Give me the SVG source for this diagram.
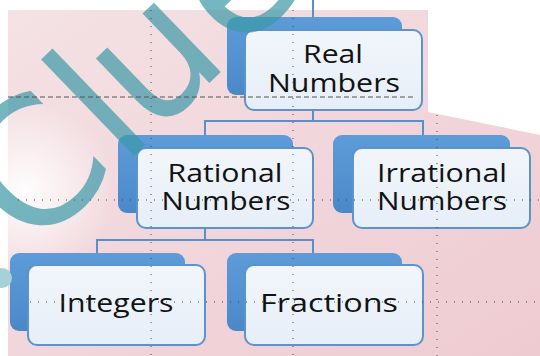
<svg xmlns="http://www.w3.org/2000/svg" width="540" height="356" viewBox="0 0 540 356">
  <defs>
    <linearGradient id="bg" x1="0" y1="0" x2="1" y2="1">
      <stop offset="0" stop-color="#f4e2e5"/>
      <stop offset="0.5" stop-color="#f1d6db"/>
      <stop offset="1" stop-color="#eecbd1"/>
    </linearGradient>
    <radialGradient id="glow" cx="25" cy="190" r="90" gradientUnits="userSpaceOnUse">
      <stop offset="0" stop-color="#ffffff" stop-opacity="0.95"/>
      <stop offset="1" stop-color="#ffffff" stop-opacity="0"/>
    </radialGradient>
    <linearGradient id="back" x1="0" y1="0" x2="0" y2="1">
      <stop offset="0" stop-color="#5d9cd8"/>
      <stop offset="1" stop-color="#4b88c8"/>
    </linearGradient>
    <linearGradient id="front" x1="0" y1="0" x2="0" y2="1">
      <stop offset="0" stop-color="#f2f6fb"/>
      <stop offset="1" stop-color="#e6eef8"/>
    </linearGradient>
    <style>
      .back { fill: url(#back); }
      .front { fill: url(#front); stroke: #5b93cf; stroke-width: 2; }
      .lbl { font-family: "Open Sans", "Liberation Sans", sans-serif; font-size: 25px; fill: #121212; text-anchor: middle; }
      .conn { fill: none; stroke: #5a8fcb; stroke-width: 2; }
      .dot { stroke: #444; stroke-width: 1; stroke-dasharray: 1 7; fill: none; }
      .dash { stroke: #555; stroke-width: 1; stroke-dasharray: 5 3; fill: none; }
      .wm { font-family: "DejaVu Sans", sans-serif; font-size: 176px; fill: #3a98a6; fill-opacity: 0.7; text-anchor: middle; }
    </style>
  </defs>

  <!-- background -->
  <rect width="540" height="356" fill="#ffffff"/>
  <path d="M8,10 H428 V112 L540,135 V356 H8 Z" fill="url(#bg)"/>
  <path d="M8,10 H428 V112 L540,135 V356 H8 Z" fill="url(#glow)"/>

  <!-- connectors -->
  <g id="connectors">
    <path class="conn" d="M313,0 V17"/>
    <path class="conn" d="M313,110 V121 M205,135 V121 H423 V135"/>
    <path class="conn" d="M205,228 V240 M97,253 V240 H313 V253"/>
  </g>

  <!-- nodes -->
  <g id="real">
    <rect class="back" x="227" y="17" width="175" height="78" rx="9"/>
    <rect class="front" x="245" y="30" width="177" height="80" rx="9"/>
    <text class="lbl" x="333" y="63" textLength="60" lengthAdjust="spacingAndGlyphs">Real</text>
    <text class="lbl" x="334" y="92" textLength="132" lengthAdjust="spacingAndGlyphs">Numbers</text>
  </g>
  <g id="rational">
    <rect class="back" x="118" y="135" width="175" height="78" rx="9"/>
    <rect class="front" x="137" y="148" width="176" height="80" rx="9"/>
    <text class="lbl" x="225" y="182" textLength="115" lengthAdjust="spacingAndGlyphs">Rational</text>
    <text class="lbl" x="226" y="210" textLength="129" lengthAdjust="spacingAndGlyphs">Numbers</text>
  </g>
  <g id="irrational">
    <rect class="back" x="333" y="135" width="177" height="78" rx="9"/>
    <rect class="front" x="353" y="148" width="177" height="80" rx="9"/>
    <text class="lbl" x="442" y="182" textLength="130" lengthAdjust="spacingAndGlyphs">Irrational</text>
    <text class="lbl" x="442" y="210" textLength="130" lengthAdjust="spacingAndGlyphs">Numbers</text>
  </g>
  <g id="integers">
    <rect class="back" x="10" y="253" width="175" height="78" rx="9"/>
    <rect class="front" x="28" y="265" width="177" height="80" rx="9"/>
    <text class="lbl" x="116" y="312" textLength="115" lengthAdjust="spacingAndGlyphs">Integers</text>
  </g>
  <g id="fractions">
    <rect class="back" x="227" y="253" width="175" height="78" rx="9"/>
    <rect class="front" x="245" y="265" width="178" height="80" rx="9"/>
    <text class="lbl" x="329" y="312" textLength="138" lengthAdjust="spacingAndGlyphs">Fractions</text>
  </g>

  <!-- watermark -->
  <g id="watermark">
    <g transform="rotate(-44)">
      <text class="wm" x="-93" y="205">C</text>
      <text class="wm" x="-4" y="205">l</text>
      <text class="wm" x="69" y="205">u</text>
      <text class="wm" x="185" y="205">e</text>
    </g>
    <circle cx="2" cy="278" r="10" fill="#a6d1d6"/>
  </g>

  <!-- guides -->
  <g id="guides">
    <path class="dot" d="M151,10 V356"/>
    <path class="dot" d="M293,10 V356"/>
    <path class="dot" d="M437,115 V356"/>
    <path class="dash" d="M8,97 H413"/>
    <path class="dot" d="M18,200 H540"/>
    <path class="dot" d="M30,302 H540"/>
  </g>
</svg>
